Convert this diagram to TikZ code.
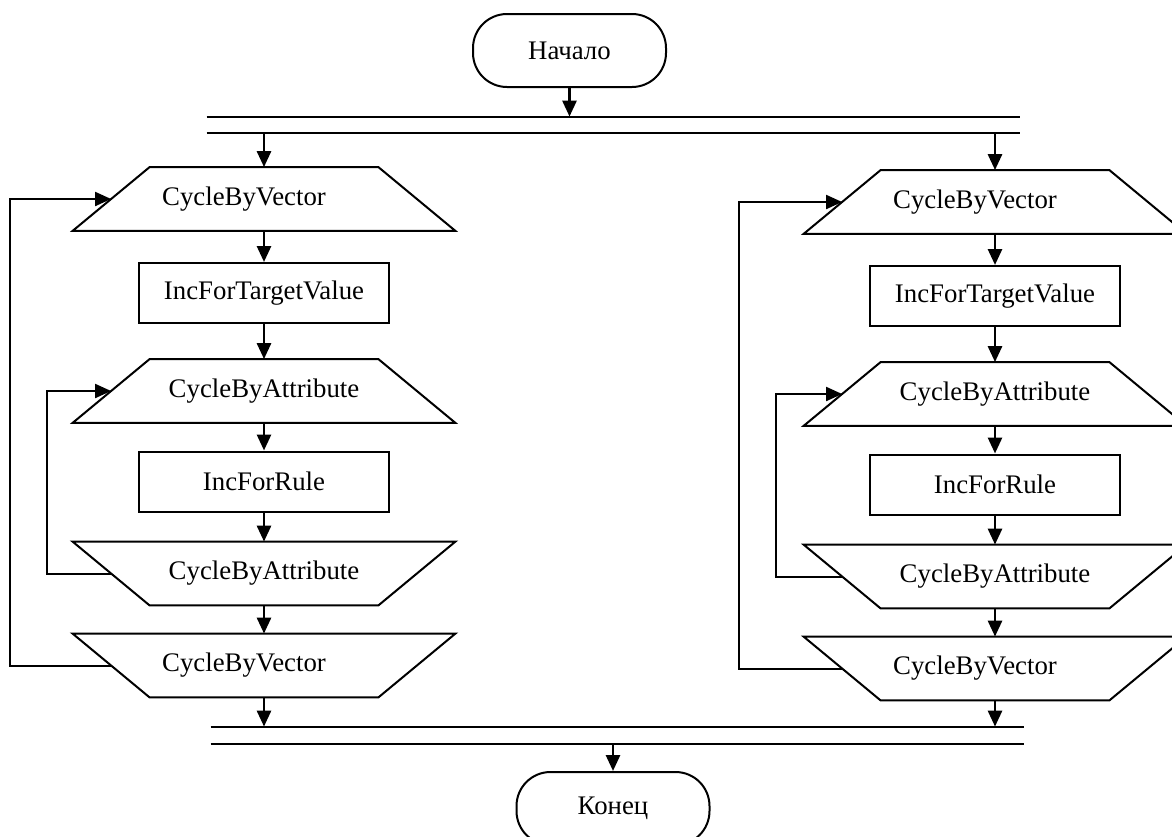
\documentclass[tikz,border=0pt]{standalone}
\usepackage{fontspec}
\setmainfont{Liberation Serif}
\usetikzlibrary{arrows.meta,calc}
\begin{document}
\begin{tikzpicture}[x=0.5pt,y=-0.5pt,
  font=\fontsize{13.4pt}{15pt}\selectfont,
  box/.style={draw, line width=1pt, minimum width=125pt, minimum height=30pt, inner sep=0pt},
  trapnode/.style={minimum width=191pt, minimum height=31.5pt, inner sep=0pt},
  term/.style={draw, line width=1pt, rounded corners=17pt, minimum width=96.5pt, minimum height=36.5pt, inner sep=0pt},
  barnode/.style={minimum width=406.5pt, minimum height=8pt, inner sep=0pt},
  arr/.style={line width=1.4pt, -{Triangle[length=8pt,width=7pt]}},
  loopline/.style={line width=1pt, -{Triangle[length=8pt,width=7pt]}},
  outline/.style={line width=1pt, line join=miter},
  barline/.style={line width=1pt}
]
\clip (0,0) rectangle (1172,836);
\fill[white] (0,0) rectangle (1172,836);

% terminals
\node[term] (start) at (569.5,50.5) {Начало};
\node[term] (end) at (613,808.5) {Конец};

% fork / join bars
\node[barnode] (fork) at (613.5,125) {};
\node[barnode, minimum height=8.5pt] (join) at (617.5,735.5) {};
\draw[barline] (fork.north west) -- (fork.north east) (fork.south west) -- (fork.south east);
\draw[barline] (join.north west) -- (join.north east) (join.south west) -- (join.south east);

% left column
\node[trapnode] (vL1) at (264,199) {CycleByVector\hspace*{20pt}};
\node[box] (tL) at (264,293) {IncForTargetValue};
\node[trapnode] (aL1) at (264,391) {CycleByAttribute};
\node[box] (rL) at (264,481.5) {IncForRule};
\node[trapnode] (aL2) at (264,573.5) {CycleByAttribute};
\node[trapnode] (vL2) at (264,665.5) {CycleByVector\hspace*{20pt}};

% right column
\node[trapnode] (vR1) at (995,202) {CycleByVector\hspace*{20pt}};
\node[box] (tR) at (995,296) {IncForTargetValue};
\node[trapnode] (aR1) at (995,394) {CycleByAttribute};
\node[box] (rR) at (995,484.5) {IncForRule};
\node[trapnode] (aR2) at (995,576.5) {CycleByAttribute};
\node[trapnode] (vR2) at (995,668.5) {CycleByVector\hspace*{20pt}};

% trapezoid outlines: loop starts (wide bottom)
\foreach \n in {vL1,aL1,vR1,aR1}{
  \draw[outline] ($(\n.north west)+(38.5pt,0)$) -- ($(\n.north east)+(-38.5pt,0)$)
    -- (\n.south east) -- (\n.south west) -- cycle;
}
% loop ends (wide top)
\foreach \n in {aL2,vL2,aR2,vR2}{
  \draw[outline] (\n.north west) -- (\n.north east)
    -- ($(\n.south east)+(-38.5pt,0)$) -- ($(\n.south west)+(38.5pt,0)$) -- cycle;
}

% flow arrows
\draw[arr] (start.south) -- (start.south |- fork.north);
\draw[arr] (fork.south -| vL1.north) -- (vL1.north);
\draw[arr] (fork.south -| vR1.north) -- (vR1.north);
\draw[arr] (vL1.south) -- (tL.north);
\draw[arr] (tL.south) -- (aL1.north);
\draw[arr] (aL1.south) -- (rL.north);
\draw[arr] (rL.south) -- (aL2.north);
\draw[arr] (aL2.south) -- (vL2.north);
\draw[arr] (vL2.south) -- (vL2.south |- join.north);
\draw[arr] (vR1.south) -- (tR.north);
\draw[arr] (tR.south) -- (aR1.north);
\draw[arr] (aR1.south) -- (rR.north);
\draw[arr] (rR.south) -- (aR2.north);
\draw[arr] (aR2.south) -- (vR2.north);
\draw[arr] (vR2.south) -- (vR2.south |- join.north);
\draw[arr] (join.south -| end.north) -- (end.north);

% loop-back lines
\coordinate (Lout) at (10,0);
\coordinate (Lin) at (47,0);
\coordinate (Rout) at (739,0);
\coordinate (Rin) at (776,0);
\draw[loopline] ($(aL2.west)+(19.25pt,0)$) -| (Lin |- aL1.west) -- ($(aL1.west)+(19.25pt,0)$);
\draw[loopline] ($(vL2.west)+(19.25pt,0)$) -| (Lout |- vL1.west) -- ($(vL1.west)+(19.25pt,0)$);
\draw[loopline] ($(aR2.west)+(19.25pt,0)$) -| (Rin |- aR1.west) -- ($(aR1.west)+(19.25pt,0)$);
\draw[loopline] ($(vR2.west)+(19.25pt,0)$) -| (Rout |- vR1.west) -- ($(vR1.west)+(19.25pt,0)$);
\end{tikzpicture}
\end{document}
